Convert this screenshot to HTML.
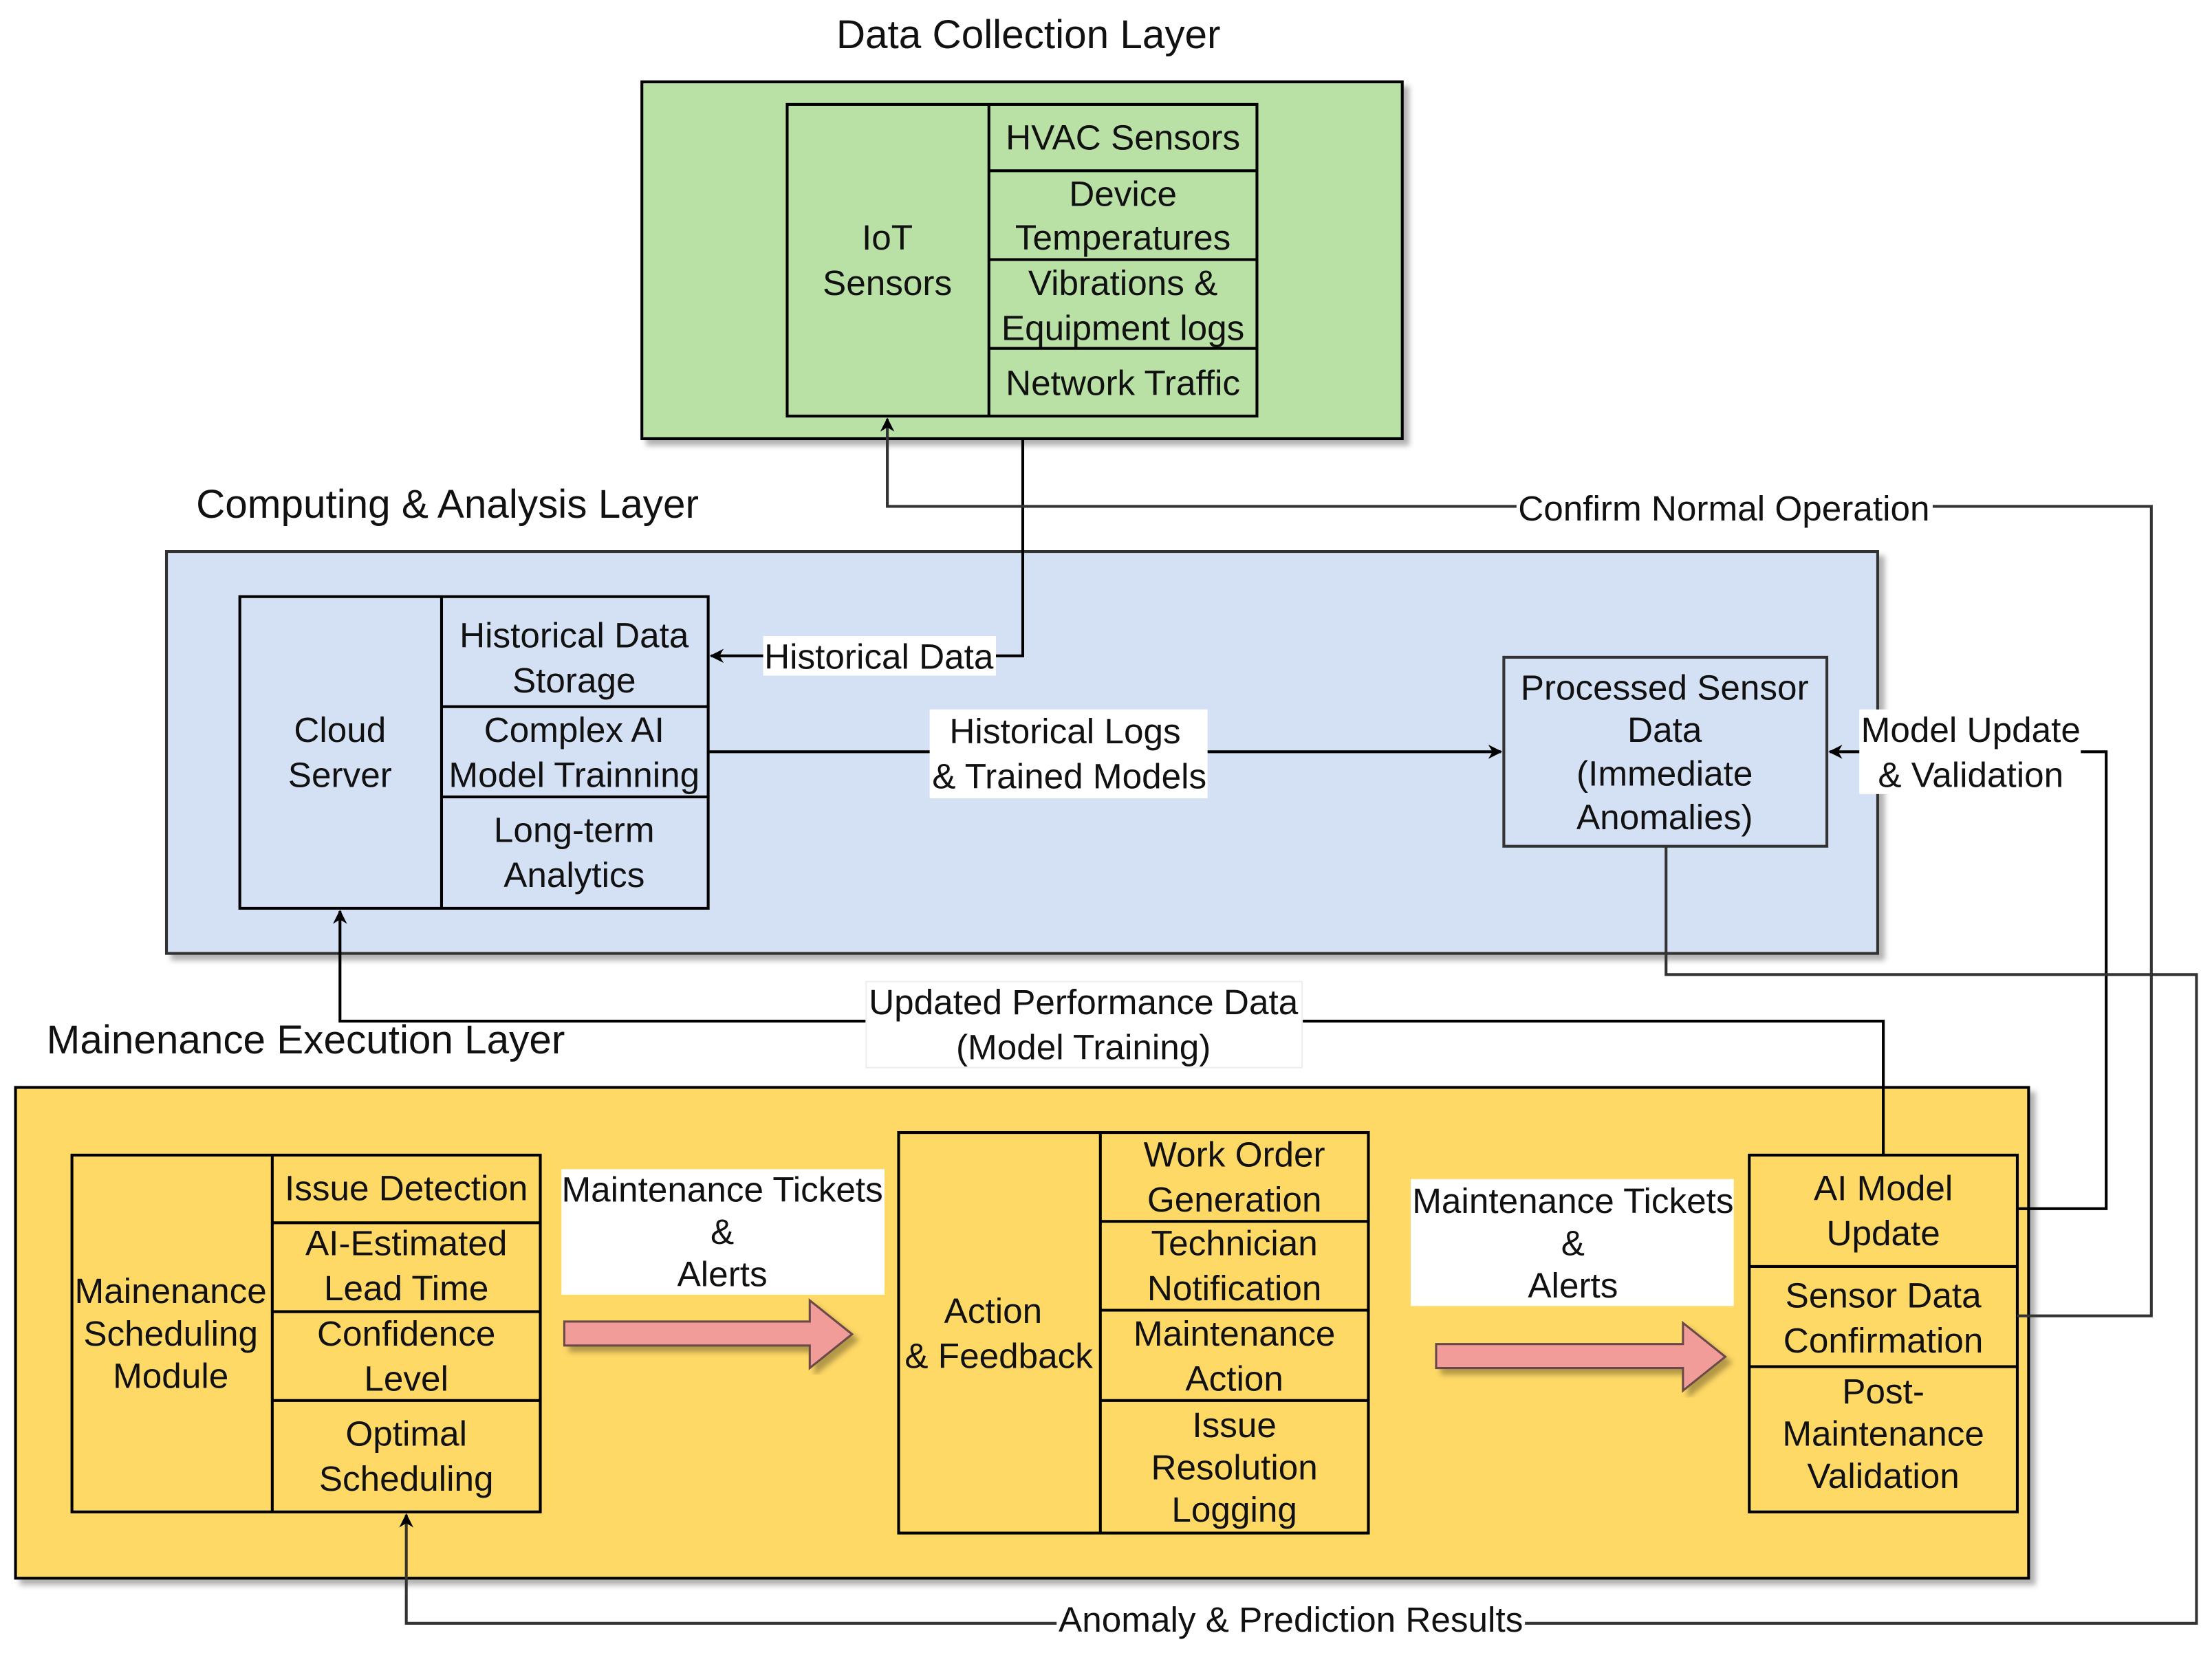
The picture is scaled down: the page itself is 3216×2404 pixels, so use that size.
<!DOCTYPE html>
<html><head><meta charset="utf-8"><style>
html,body{margin:0;padding:0;background:#fff;}
svg{display:block;}
text{font-family:"Liberation Sans",Arial,sans-serif;fill:#111;}
</style></head><body>
<svg width="3216" height="2404" viewBox="0 0 1568 1172" xmlns="http://www.w3.org/2000/svg">
<defs>
<filter id="sh" x="-5%" y="-5%" width="115%" height="115%"><feDropShadow dx="4" dy="4" stdDeviation="2" flood-color="#000" flood-opacity="0.3"/></filter>
<marker id="ar" markerWidth="10" markerHeight="10" refX="9" refY="5" orient="auto" markerUnits="userSpaceOnUse"><path d="M0,0 L10,5 L0,10 L3,5 z" fill="#000"/></marker>
</defs>
<g font-size="25">
<!-- titles -->
<text x="729" y="34" text-anchor="middle" font-size="28.5">Data Collection Layer</text>
<text x="139" y="367" font-size="28.5">Computing &amp; Analysis Layer</text>
<text x="33" y="747" font-size="28.5">Mainenance Execution Layer</text>

<!-- layer boxes -->
<rect x="455" y="58" width="539" height="253" fill="#b9e0a5" stroke="#000" stroke-width="2" filter="url(#sh)"/>
<rect x="118" y="391" width="1213" height="285" fill="#d4e1f5" stroke="#333" stroke-width="2" filter="url(#sh)"/>
<rect x="11" y="771" width="1427" height="348" fill="#ffd966" stroke="#000" stroke-width="2" filter="url(#sh)"/>

<!-- IoT -->
<g fill="none" stroke="#000" stroke-width="2">
<rect x="558" y="74" width="333" height="221"/>
<line x1="701" y1="74" x2="701" y2="295"/>
<line x1="701" y1="121" x2="891" y2="121"/>
<line x1="701" y1="184" x2="891" y2="184"/>
<line x1="701" y1="247" x2="891" y2="247"/>
</g>
<text x="629" y="177" text-anchor="middle">IoT</text>
<text x="629" y="209" text-anchor="middle">Sensors</text>
<text x="796" y="106" text-anchor="middle">HVAC Sensors</text>
<text x="796" y="146" text-anchor="middle">Device</text>
<text x="796" y="177" text-anchor="middle">Temperatures</text>
<text x="796" y="209" text-anchor="middle">Vibrations &amp;</text>
<text x="796" y="241" text-anchor="middle">Equipment logs</text>
<text x="796" y="280" text-anchor="middle">Network Traffic</text>

<!-- Cloud -->
<g fill="none" stroke="#000" stroke-width="2">
<rect x="170" y="423" width="332" height="221"/>
<line x1="313" y1="423" x2="313" y2="644"/>
<line x1="313" y1="501" x2="502" y2="501"/>
<line x1="313" y1="565" x2="502" y2="565"/>
</g>
<text x="241" y="526" text-anchor="middle">Cloud</text>
<text x="241" y="558" text-anchor="middle">Server</text>
<text x="407" y="459" text-anchor="middle">Historical Data</text>
<text x="407" y="491" text-anchor="middle">Storage</text>
<text x="407" y="526" text-anchor="middle">Complex AI</text>
<text x="407" y="558" text-anchor="middle">Model Trainning</text>
<text x="407" y="597" text-anchor="middle">Long-term</text>
<text x="407" y="629" text-anchor="middle">Analytics</text>

<!-- Processed -->
<rect x="1066" y="466" width="229" height="134" fill="none" stroke="#333" stroke-width="2"/>
<text x="1180" y="496" text-anchor="middle">Processed Sensor</text>
<text x="1180" y="526" text-anchor="middle">Data</text>
<text x="1180" y="557" text-anchor="middle">(Immediate</text>
<text x="1180" y="588" text-anchor="middle">Anomalies)</text>

<!-- MSM -->
<g fill="none" stroke="#000" stroke-width="2">
<rect x="51" y="819" width="332" height="253"/>
<line x1="193" y1="819" x2="193" y2="1072"/>
<line x1="193" y1="867" x2="383" y2="867"/>
<line x1="193" y1="930" x2="383" y2="930"/>
<line x1="193" y1="993" x2="383" y2="993"/>
</g>
<text x="121" y="924" text-anchor="middle">Mainenance</text>
<text x="121" y="954" text-anchor="middle">Scheduling</text>
<text x="121" y="984" text-anchor="middle">Module</text>
<text x="288" y="851" text-anchor="middle">Issue Detection</text>
<text x="288" y="890" text-anchor="middle">AI-Estimated</text>
<text x="288" y="922" text-anchor="middle">Lead Time</text>
<text x="288" y="954" text-anchor="middle">Confidence</text>
<text x="288" y="986" text-anchor="middle">Level</text>
<text x="288" y="1025" text-anchor="middle">Optimal</text>
<text x="288" y="1057" text-anchor="middle">Scheduling</text>

<!-- Action -->
<g fill="none" stroke="#000" stroke-width="2">
<rect x="637" y="803" width="333" height="284"/>
<line x1="780" y1="803" x2="780" y2="1087"/>
<line x1="780" y1="866" x2="970" y2="866"/>
<line x1="780" y1="929" x2="970" y2="929"/>
<line x1="780" y1="993" x2="970" y2="993"/>
</g>
<text x="704" y="938" text-anchor="middle">Action</text>
<text x="708" y="970" text-anchor="middle">&amp; Feedback</text>
<text x="875" y="827" text-anchor="middle">Work Order</text>
<text x="875" y="859" text-anchor="middle">Generation</text>
<text x="875" y="890" text-anchor="middle">Technician</text>
<text x="875" y="922" text-anchor="middle">Notification</text>
<text x="875" y="954" text-anchor="middle">Maintenance</text>
<text x="875" y="986" text-anchor="middle">Action</text>
<text x="875" y="1019" text-anchor="middle">Issue</text>
<text x="875" y="1049" text-anchor="middle">Resolution</text>
<text x="875" y="1079" text-anchor="middle">Logging</text>

<!-- AI -->
<g fill="none" stroke="#000" stroke-width="2">
<rect x="1240" y="819" width="190" height="253"/>
<line x1="1240" y1="898" x2="1430" y2="898"/>
<line x1="1240" y1="969" x2="1430" y2="969"/>
</g>
<text x="1335" y="851" text-anchor="middle">AI Model</text>
<text x="1335" y="883" text-anchor="middle">Update</text>
<text x="1335" y="927" text-anchor="middle">Sensor Data</text>
<text x="1335" y="959" text-anchor="middle">Confirmation</text>
<text x="1335" y="995" text-anchor="middle">Post-</text>
<text x="1335" y="1025" text-anchor="middle">Maintenance</text>
<text x="1335" y="1055" text-anchor="middle">Validation</text>

<!-- connectors -->
<g fill="none" stroke-width="2">
<path d="M725,311 V465 H504" stroke="#000" marker-end="url(#ar)"/>
<path d="M1430,933 H1525 V359 H629 V297" stroke="#333" marker-end="url(#ar)"/>
<path d="M502,533 H1064" stroke="#000" marker-end="url(#ar)"/>
<path d="M1430,857 H1493 V533 H1297" stroke="#000" marker-end="url(#ar)"/>
<path d="M1181,600 V691 H1557 V1151 H288 V1074" stroke="#333" marker-end="url(#ar)"/>
<path d="M1335,819 V724 H241 V646" stroke="#000" marker-end="url(#ar)"/>
</g>

<!-- label boxes -->
<rect x="541" y="451" width="165" height="28" fill="#fff"/>
<text x="623" y="474" text-anchor="middle">Historical Data</text>
<rect x="1075" y="346" width="295" height="28" fill="#fff"/>
<text x="1222" y="369" text-anchor="middle">Confirm Normal Operation</text>
<rect x="659" y="503" width="197" height="63" fill="#fff"/>
<text x="755" y="527" text-anchor="middle">Historical Logs</text>
<text x="758" y="559" text-anchor="middle">&amp; Trained Models</text>
<rect x="1318" y="503" width="157" height="60" fill="#fff"/>
<text x="1397" y="526" text-anchor="middle">Model Update</text>
<text x="1397" y="558" text-anchor="middle">&amp; Validation</text>
<rect x="749" y="1136" width="332" height="28" fill="#fff"/>
<text x="915" y="1157" text-anchor="middle">Anomaly &amp; Prediction Results</text>
<rect x="614" y="696" width="309" height="61" fill="#fff" stroke="#eee" stroke-width="1"/>
<text x="768" y="719" text-anchor="middle">Updated Performance Data</text>
<text x="768" y="751" text-anchor="middle">(Model Training)</text>

<rect x="398" y="829" width="229" height="89" fill="#fff"/>
<text x="512" y="852" text-anchor="middle">Maintenance Tickets</text>
<text x="512" y="882" text-anchor="middle">&amp;</text>
<text x="512" y="912" text-anchor="middle">Alerts</text>
<rect x="1000" y="836" width="229" height="90" fill="#fff"/>
<text x="1115" y="860" text-anchor="middle">Maintenance Tickets</text>
<text x="1115" y="890" text-anchor="middle">&amp;</text>
<text x="1115" y="920" text-anchor="middle">Alerts</text>

<!-- big arrows -->
<path d="M400,937 H574 V922 L604,946 L574,970 V954 H400 Z" fill="#f19c99" stroke="#6b4a4a" stroke-width="1.5" filter="url(#sh)"/>
<path d="M1018,953 H1193 V938 L1223,962 L1193,986 V970 H1018 Z" fill="#f19c99" stroke="#6b4a4a" stroke-width="1.5" filter="url(#sh)"/>
</g>
</svg>
</body></html>
